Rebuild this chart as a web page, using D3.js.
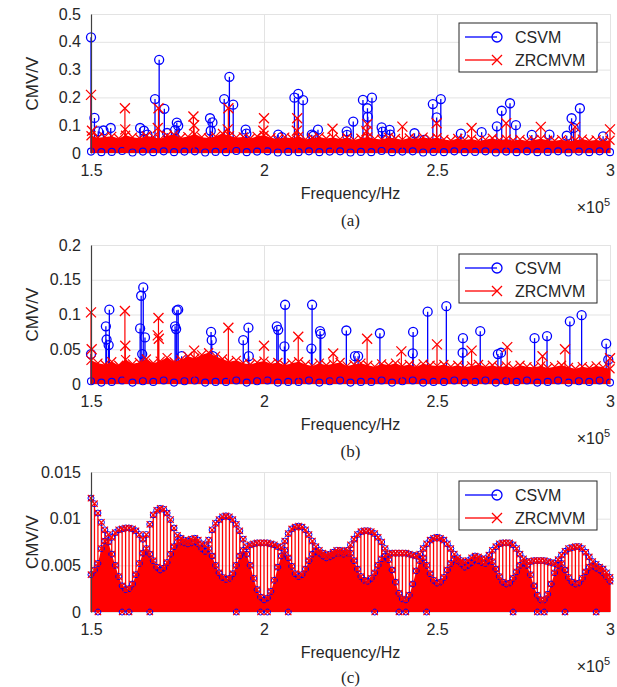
<!DOCTYPE html>
<html>
<head>
<meta charset="utf-8">
<script src="https://cdn.jsdelivr.net/npm/d3@7"></script>
<style>
  body { margin: 0; background: #fff; }
  text { font-family: "Liberation Sans", Arial, sans-serif; fill: #262626; }
</style>
</head>
<body>
<svg width="617" height="687"></svg>
<script>
/*************************** DATA (frequency in kHz, CMV in V) ***************************/
var xTicks = [150, 200, 250, 300];
var seriesNames = ["CSVM", "ZRCMVM"];
var panelLabels = ["(a)", "(b)", "(c)"];

// ---- panel (a) ----
var aYTicks = [0, 0.1, 0.2, 0.3, 0.4, 0.5];
var aCsvmPeaks = [[150,0.416],[151,0.126],[152.1,0.078],[153.6,0.081],[155.7,0.090],[164.2,0.090],[165.3,0.080],
  [166.3,0.066],[168.5,0.194],[169.7,0.335],[171.2,0.159],[172,0.072],[174.3,0.082],[174.8,0.109],[175.2,0.098],
  [184.4,0.125],[185.1,0.110],[184.6,0.080],[188.5,0.194],[190,0.274],[191.1,0.174],[194.7,0.084],[194.9,0.070],
  [204.1,0.066],[205.1,0.057],[208.8,0.199],[209.9,0.213],[211.3,0.190],[213.8,0.066],[214.3,0.062],[215.6,0.084],
  [223.9,0.078],[224,0.065],[225.8,0.113],[228.6,0.191],[229.9,0.161],[231.2,0.199],[230,0.130],[234,0.092],
  [234.3,0.077],[236.3,0.083],[236.5,0.066],[243.5,0.071],[246.3,0.047],[248.8,0.176],[249.9,0.128],[251.1,0.194],
  [256.9,0.070],[262.9,0.075],[267.3,0.096],[268.7,0.152],[271.1,0.179],[272.8,0.100],[277.4,0.065],[282.5,0.066],
  [287.5,0.062],[288.9,0.125],[289.5,0.090],[291.3,0.161],[298,0.060]];
var aZrcPeaks = [[150,0.209],[150.3,0.080],[159.8,0.161],[159.9,0.085],[169.5,0.161],[169.3,0.090],[179.6,0.131],
  [179.8,0.100],[189.7,0.161],[189.5,0.085],[200,0.125],[199.8,0.080],[209.6,0.125],[209.5,0.080],[219.8,0.087],
  [229.8,0.104],[229.6,0.078],[240,0.095],[249.9,0.107],[260,0.090],[270,0.107],[280,0.094],[289.9,0.094],[300,0.085]];
// top of the dense ZRCMVM band, one reading every 2 kHz from 150 kHz
var aZrcFloor = [.062,.055,.058,.060,.052,.064,.057,.053,.061,.058,.050,.063,.066,.055,.059,.068,.057,.054,.060,.070,
  .062,.056,.058,.052,.060,.064,.055,.050,.057,.053,.060,.049,.054,.058,.052,.056,.050,.055,.047,.053,.058,.051,.049,
  .056,.052,.048,.054,.050,.057,.051,.055,.049,.045,.052,.047,.050,.044,.048,.053,.046,.050,.045,.049,.043,.047,.051,
  .046,.044,.048,.042,.046,.050,.044,.047,.043,.046];
// low CSVM bins showing under the band, every 3 kHz from 150 kHz
var aCsvmLow = [.005,.003,.004,.007,.002,.005,.003,.006,.003,.005,.006,.002,.004,.003,.007,.003,.005,.006,.002,.004,
  .003,.006,.003,.005,.006,.002,.004,.003,.007,.003,.005,.006,.002,.004,.003,.006,.003,.004,.006,.002,.005,.003,.006,
  .003,.004,.006,.002,.005,.003,.006,.003];

// ---- panel (b) ----
var bYTicks = [0, 0.05, 0.1, 0.15, 0.2];
var bCsvmPeaks = [[150,0.043],[154.3,0.083],[154.5,0.064],[155.1,0.056],[155.3,0.107],[164.2,0.080],[164.5,0.127],
  [165.1,0.139],[165.6,0.067],[164.8,0.043],[174.3,0.083],[174.6,0.079],[174.8,0.106],[175.2,0.107],[176.2,0.040],
  [184.7,0.075],[184.9,0.063],[185.2,0.040],[194,0.063],[195.5,0.081],[195.6,0.040],[203.7,0.083],[204.1,0.078],
  [206.1,0.114],[205.9,0.054],[213.9,0.114],[213.7,0.051],[216.2,0.076],[216.4,0.072],[223.8,0.077],[226.3,0.040],
  [227.2,0.040],[233.5,0.073],[243.1,0.075],[243,0.044],[247.3,0.104],[252.7,0.112],[257.5,0.066],[257.4,0.045],
  [262.5,0.076],[267.6,0.043],[268.5,0.045],[278.2,0.066],[281.8,0.069],[288.4,0.090],[291.8,0.099],[298.9,0.058],
  [299.5,0.035]];
var bZrcPeaks = [[150,0.103],[150.2,0.050],[159.8,0.105],[159.9,0.055],[169.5,0.095],[169.3,0.070],[169.6,0.065],
  [179.8,0.048],[189.7,0.081],[200,0.055],[209.9,0.068],[220,0.044],[229.8,0.065],[239.7,0.047],[250,0.057],
  [260,0.048],[270.3,0.053],[280.5,0.040],[287,0.050],[300,0.037]];
var bZrcFloor = [.034,.030,.028,.032,.027,.035,.029,.031,.036,.030,.033,.038,.032,.035,.040,.037,.042,.045,.040,.036,
  .032,.034,.030,.028,.031,.033,.029,.031,.027,.030,.032,.028,.026,.030,.027,.029,.031,.026,.028,.030,.027,.025,.029,
  .027,.030,.026,.028,.025,.029,.027,.026,.028,.025,.027,.024,.026,.028,.025,.027,.024,.026,.023,.027,.025,.024,.026,
  .023,.025,.027,.024,.022,.025,.023,.026,.024,.022];
var bCsvmLow = [.004,.002,.003,.005,.002,.004,.003,.005,.002,.004,.005,.002,.003,.003,.005,.002,.004,.005,.002,.003,
  .003,.005,.002,.004,.005,.002,.003,.003,.005,.002,.004,.005,.002,.003,.003,.005,.002,.003,.005,.002,.004,.003,.005,
  .002,.003,.005,.002,.004,.003,.005,.002];

// ---- panel (c): both series nearly coincide, one reading every 1 kHz from 150 kHz ----
var cYTicks = [0, 0.005, 0.01, 0.015];
// upper envelope of the markers
var cEnvelope = [.0122,.0116,.0106,.0096,.0088,.0083,.0080,.0085,.0088,.0089,.0090,.0090,.0089,.0087,.0083,.0078,
  .0083,.0094,.0104,.0109,.0111,.0110,.0106,.0099,.0090,.0082,.0079,.0077,.0076,.0078,.0079,.0077,.0073,.0071,.0077,
  .0088,.0095,.0099,.0102,.0103,.0102,.0099,.0094,.0087,.0078,.0070,.0072,.0073,.0074,.0074,.0074,.0074,.0073,.0072,
  .0070,.0069,.0076,.0084,.0089,.0091,.0092,.0091,.0088,.0083,.0076,.0070,.0066,.0063,.0061,.0062,.0064,.0066,.0066,
  .0065,.0066,.0072,.0078,.0083,.0086,.0087,.0087,.0086,.0084,.0080,.0075,.0068,.0062,.0063,.0063,.0063,.0063,.0063,
  .0062,.0061,.0060,.0062,.0068,.0073,.0077,.0079,.0080,.0079,.0077,.0073,.0068,.0062,.0058,.0055,.0053,.0055,.0058,
  .0060,.0059,.0057,.0057,.0061,.0066,.0070,.0073,.0074,.0074,.0074,.0072,.0068,.0062,.0057,.0054,.0054,.0055,.0055,
  .0055,.0055,.0054,.0053,.0052,.0056,.0061,.0065,.0068,.0069,.0070,.0070,.0068,.0064,.0059,.0054,.0051,.0048,.0046,
  .0042,.0037];
// top of the solid band underneath
var cBase = [.0040,.0045,.0052,.0068,.0076,.0075,.0062,.0050,.0038,.0028,.0024,.0025,.0030,.0040,.0052,.0063,
  .0068,.0062,.0055,.0048,.0045,.0047,.0053,.0062,.0070,.0075,.0075,.0074,.0073,.0074,.0075,.0073,.0068,.0065,.0068,
  .0060,.0050,.0042,.0037,.0035,.0036,.0041,.0050,.0060,.0066,.0062,.0050,.0036,.0024,.0016,.0013,.0015,.0022,.0034,
  .0048,.0060,.0066,.0058,.0049,.0041,.0038,.0040,.0046,.0055,.0062,.0065,.0063,.0060,.0058,.0059,.0061,.0063,.0063,
  .0062,.0063,.0063,.0055,.0046,.0038,.0034,.0033,.0036,.0042,.0050,.0057,.0060,.0056,.0045,.0032,.0020,.0014,.0013,
  .0018,.0030,.0044,.0055,.0058,.0050,.0041,.0034,.0031,.0032,.0037,.0045,.0052,.0056,.0055,.0052,.0048,.0050,.0053,
  .0056,.0055,.0053,.0052,.0055,.0054,.0046,.0038,.0032,.0030,.0031,.0036,.0043,.0050,.0053,.0050,.0040,.0028,.0018,
  .0013,.0013,.0019,.0030,.0042,.0050,.0052,.0045,.0037,.0032,.0030,.0031,.0036,.0043,.0048,.0049,.0047,.0045,.0042,
  .0038,.0033];
// bins that drop to zero (markers sitting on the axis)
var cZeros = [152, 159, 161, 167, 192, 199, 201, 207, 232, 239, 241, 247, 272, 279, 281, 287, 296];

/*************************** LAYOUT ***************************/
var BLUE = "#0000ff", RED = "#ff0000";
var X0 = 91, X1 = 610;
var svg = d3.select("svg");
var x = d3.scaleLinear().domain([150, 300]).range([X0, X1]);

// labelY: baseline of the (a)/(b)/(c) caption
var panels = [
  {top: 14,  bottom: 153, yTicks: aYTicks, labelY: 226},
  {top: 245, bottom: 384, yTicks: bYTicks, labelY: 457},
  {top: 472, bottom: 612, yTicks: cYTicks, labelY: 683}
];

// index -> frequency for the evenly read bands
function withFreq(vals, step) {
  return vals.map(function(v, i) { return [150 + i*step, v]; });
}

function xPath(s) {
  return "M" + (-s) + "," + (-s) + "L" + s + "," + s + "M" + (-s) + "," + s + "L" + s + "," + (-s);
}

function drawStems(g, y, pts, color, w) {
  g.append("g").selectAll("line").data(pts).enter().append("line")
    .attr("x1", function(d) { return x(d[0]); })
    .attr("x2", function(d) { return x(d[0]); })
    .attr("y1", y(0))
    .attr("y2", function(d) { return y(d[1]); })
    .attr("stroke", color).attr("stroke-width", w);
}
function drawCircles(g, y, pts, r, w) {
  g.append("g").selectAll("circle").data(pts).enter().append("circle")
    .attr("cx", function(d) { return x(d[0]); })
    .attr("cy", function(d) { return y(d[1]); })
    .attr("r", r).attr("fill", "none")
    .attr("stroke", BLUE).attr("stroke-width", w);
}
function drawCrosses(g, y, pts, s, w) {
  g.append("g").selectAll("path").data(pts).enter().append("path")
    .attr("transform", function(d) { return "translate(" + x(d[0]) + "," + y(d[1]) + ")"; })
    .attr("d", xPath(s))
    .attr("fill", "none").attr("stroke", RED).attr("stroke-width", w);
}

function drawGrid(p, y) {
  var g = svg.append("g").attr("class", "grid");
  g.append("g").attr("transform", "translate(0," + p.bottom + ")")
    .call(d3.axisBottom(x).tickValues(xTicks).tickSize(-(p.bottom - p.top)).tickFormat(""));
  g.append("g").attr("transform", "translate(" + X0 + ",0)")
    .call(d3.axisLeft(y).tickValues(p.yTicks).tickSize(-(X1 - X0)).tickFormat(""));
  g.selectAll(".domain").remove();
  g.selectAll("line").attr("stroke", "#e3e3e3").attr("stroke-width", 1);
}

function drawAxes(p, y, idx) {
  // y axis line + labels
  var ya = svg.append("g").attr("transform", "translate(" + X0 + ",0)")
    .call(d3.axisLeft(y).tickValues(p.yTicks).tickSize(0).tickPadding(10)
      .tickFormat(function(d) { return String(d); }));
  ya.select(".domain").attr("stroke", "#404040").attr("stroke-width", 1.2);
  ya.selectAll("text").style("font-size", "16px").attr("fill", "#262626");

  var xa = svg.append("g").attr("transform", "translate(0," + p.bottom + ")")
    .call(d3.axisBottom(x).tickValues(xTicks).tickSize(0).tickPadding(12)
      .tickFormat(function(d) { return String(d/100); }));
  xa.select(".domain").remove();
  xa.selectAll("text").style("font-size", "16px").attr("fill", "#262626");

  var mid = (X0 + X1) / 2;
  svg.append("text").attr("x", mid).attr("y", p.bottom + 46)
    .attr("text-anchor", "middle").style("font-size", "16px").text("Frequency/Hz");

  var t = svg.append("text").attr("x", X1).attr("y", p.bottom + 60)
    .attr("text-anchor", "end").style("font-size", "16px").attr("fill", "#505050");
  t.append("tspan").text("\u00d710");
  t.append("tspan").attr("dy", -7).style("font-size", "11px").text("5");

  svg.append("text").attr("x", mid).attr("y", p.labelY)
    .attr("text-anchor", "middle")
    .style("font-family", "'Liberation Serif', 'Times New Roman', serif")
    .style("font-size", "17px").attr("fill", "#000").text(panelLabels[idx]);

  svg.append("text")
    .attr("transform", "translate(38," + ((p.top + p.bottom) / 2) + ") rotate(-90)")
    .attr("text-anchor", "middle").style("font-size", "17px").text("CMV/V");

  // legend
  var lg = svg.append("g").attr("transform", "translate(459," + (p.top + 9) + ")");
  lg.append("rect").attr("width", 138).attr("height", 49)
    .attr("fill", "#fff").attr("stroke", "#262626").attr("stroke-width", 1);
  [0, 1].forEach(function(k) {
    var cy = 14 + k*23;
    lg.append("line").attr("x1", 6).attr("x2", 38).attr("y1", cy).attr("y2", cy)
      .attr("stroke", k ? RED : BLUE).attr("stroke-width", 1.3);
    if (k) {
      lg.append("path").attr("transform", "translate(38," + cy + ")").attr("d", xPath(5))
        .attr("stroke", RED).attr("stroke-width", 1.3).attr("fill", "none");
    } else {
      lg.append("circle").attr("cx", 38).attr("cy", cy).attr("r", 5)
        .attr("fill", "none").attr("stroke", BLUE).attr("stroke-width", 1.3);
    }
    lg.append("text").attr("x", 56).attr("y", cy + 6).style("font-size", "16px").text(seriesNames[k]);
  });
}

/*************************** PANELS (a) and (b) ***************************/
function drawSparse(p, csvmPeaks, zrcPeaks, zrcFloor, csvmLow) {
  var y = d3.scaleLinear().domain([0, p.yTicks[p.yTicks.length - 1]]).range([p.bottom, p.top]);
  drawGrid(p, y);
  var g = svg.append("g");

  // CSVM stems first, ZRCMVM drawn over it
  drawStems(g, y, csvmPeaks, BLUE, 1.3);
  drawCircles(g, y, csvmPeaks, 4.5, 1.3);

  var floor = withFreq(zrcFloor, 2);
  g.append("path").datum(floor)
    .attr("d", d3.area().x(function(d) { return x(d[0]); }).y0(y(0)).y1(function(d) { return y(d[1]); }))
    .attr("fill", RED);
  drawCircles(g, y, withFreq(csvmLow, 3), 3.5, 1.1);
  drawCrosses(g, y, floor, 4.5, 1.2);
  drawStems(g, y, zrcPeaks, RED, 1.2);
  drawCrosses(g, y, zrcPeaks, 5, 1.3);
  return y;
}

var yA = drawSparse(panels[0], aCsvmPeaks, aZrcPeaks, aZrcFloor, aCsvmLow);
drawAxes(panels[0], yA, 0);
var yB = drawSparse(panels[1], bCsvmPeaks, bZrcPeaks, bZrcFloor, bCsvmLow);
drawAxes(panels[1], yB, 1);

/*************************** PANEL (c) ***************************/
var pc = panels[2];
var yC = d3.scaleLinear().domain([0, 0.015]).range([pc.bottom, pc.top]);
drawGrid(pc, yC);
var gc = svg.append("g");
var env = withFreq(cEnvelope, 1);
var base = withFreq(cBase, 1);
var zeros = cZeros.map(function(f) { return [f, 0]; });

drawStems(gc, yC, env, RED, 1.3);
gc.append("path").datum(base)
  .attr("d", d3.area().x(function(d) { return x(d[0]); }).y0(yC(0)).y1(function(d) { return yC(d[1]); }))
  .attr("fill", RED);
drawCircles(gc, yC, env, 3, 1);
drawCircles(gc, yC, base, 3, 1);
drawCircles(gc, yC, zeros, 3, 1);
drawCrosses(gc, yC, env, 3.2, 1.2);
drawCrosses(gc, yC, base, 3.2, 1.2);
drawCrosses(gc, yC, zeros, 3.2, 1.2);
drawAxes(pc, yC, 2);
</script>
</body>
</html>
